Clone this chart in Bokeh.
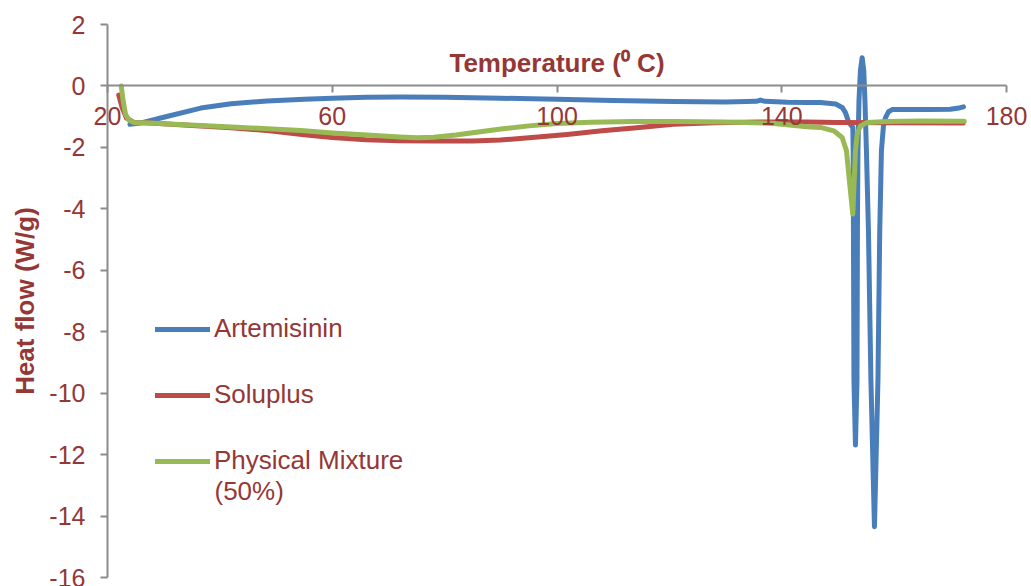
from bokeh.plotting import figure
from bokeh.models import (Range1d, FixedTicker, LinearAxis, Legend, LegendItem,
                          Label, ColumnDataSource, PrintfTickFormatter)
from bokeh.embed import file_html
from bokeh.resources import INLINE

# DSC thermograms: temperature (deg C) vs heat flow (W/g)
art_temp = [24.0, 26.0, 30.0, 36.6, 42.0, 48.4, 55.0, 60.0, 66.0, 72.1, 80.0, 90.0,
            100.0, 110.0, 120.7, 130.0, 135.5, 136.2, 137.0, 141.0, 144.5, 146.9,
            149.6, 150.75, 151.34, 151.93, 152.65, 152.71, 152.76, 152.85, 153.12,
            153.39, 153.47, 153.56, 153.74, 154.0, 154.31, 154.6, 154.81, 155.07,
            155.43, 155.87, 156.5, 157.12, 157.44, 157.74, 158.1, 158.45, 158.99,
            159.65, 161.66, 166.5, 170.0, 171.5, 172.34]
art_flow = [-1.25, -1.20, -1.02, -0.72, -0.58, -0.49, -0.43, -0.40, -0.37, -0.36, -0.37, -0.40,
            -0.43, -0.47, -0.51, -0.52, -0.50, -0.46, -0.50, -0.53, -0.54, -0.54,
            -0.59, -0.70, -0.87, -1.19, -1.35, -2.11, -4.71, -9.58, -11.69,
            -9.58, -4.71, -2.11, -0.49, 0.49, 0.92, 0.49, -0.49, -2.11,
            -4.71, -9.58, -14.35, -9.58, -4.71, -2.11, -1.30, -1.04, -0.84,
            -0.77, -0.77, -0.77, -0.76, -0.72, -0.68]

sol_temp = [22.0, 22.6, 23.4, 24.7, 27.6, 36.6, 42.0, 48.4, 55.0, 60.0, 66.0, 72.0, 78.0,
            85.0, 89.9, 95.0, 101.8, 108.0, 113.7, 120.7, 128.0, 136.0, 144.5,
            150.0, 160.0, 172.3]
sol_flow = [-0.30, -0.70, -1.05, -1.19, -1.21, -1.30, -1.36, -1.45, -1.59, -1.68, -1.75, -1.78, -1.79,
            -1.79, -1.76, -1.69, -1.58, -1.46, -1.37, -1.25, -1.20, -1.17, -1.17,
            -1.19, -1.20, -1.21]

mix_temp = [22.44, 22.79, 23.2, 23.79, 24.68, 27.65, 30.0, 36.6, 42.0, 48.4, 54.4, 60.0,
            66.2, 72.0, 75.1, 78.1, 82.0, 86.0, 90.0, 95.0, 100.0, 106.0, 113.7, 120.7, 130.0,
            138.7, 144.5, 146.9, 149.26, 150.75, 151.52, 152.1, 152.64, 153.12, 153.42,
            154.01, 155.2, 158.76, 164.69, 172.5]
mix_flow = [0.0, -0.49, -0.92, -1.11, -1.19, -1.21, -1.23, -1.29, -1.34, -1.39, -1.45, -1.53,
            -1.60, -1.66, -1.69, -1.67, -1.60, -1.50, -1.40, -1.30, -1.22, -1.18, -1.16, -1.16, -1.17,
            -1.22, -1.33, -1.35, -1.46, -1.68, -2.11, -3.19, -4.17, -2.11, -1.57,
            -1.30, -1.19, -1.16, -1.14, -1.15]

series_names = ["Artemisinin", "Soluplus", "Physical Mixture"]
mixture_note = "(50%)"
series_colors = ["#4A7EBB", "#BE4B48", "#98B954"]

x_ticks = [20, 60, 100, 140, 180]
y_ticks = [-16, -14, -12, -10, -8, -6, -4, -2, 0, 2]
x_lo, x_hi = 20, 180
y_lo, y_hi = -16, 2

TEXT = "#953735"
GRID = "#8C8C8C"
FONT = "Liberation Sans"

# Canvas layout: the axes area spans pixels 107..1006 across and 24..577 down;
# the frame fills the whole canvas so that edge labels are not clipped.
W, H = 1031, 586
AX_L, AX_R, AX_T, AX_B = 107, 1006, 24, 577
sx = (AX_R - AX_L) / (x_hi - x_lo)
sy = (AX_B - AX_T) / (y_hi - y_lo)
x_range = Range1d(x_lo - AX_L / sx, x_hi + (W - AX_R) / sx)
y_range = Range1d(y_lo - (H - AX_B) / sy, y_hi + AX_T / sy)

p = figure(width=W, height=H, output_backend="svg", toolbar_location=None,
           x_range=x_range, y_range=y_range, x_axis_type=None, y_axis_type=None,
           min_border=0)
p.outline_line_color = None
p.background_fill_color = "white"
p.border_fill_color = "white"

# y axis at the low end of the temperature scale
yaxis = LinearAxis(ticker=FixedTicker(ticks=y_ticks), formatter=PrintfTickFormatter(format="%d"),
                   fixed_location=x_lo, bounds=(y_lo, y_hi))
yaxis.axis_label = "Heat flow (W/g)"
yaxis.axis_label_text_font = FONT
yaxis.axis_label_text_font_style = "bold"
yaxis.axis_label_text_font_size = "26px"
yaxis.axis_label_text_color = TEXT
yaxis.axis_label_standoff = 6
yaxis.major_label_text_font = FONT
yaxis.major_label_text_font_size = "25px"
yaxis.major_label_text_color = TEXT
yaxis.major_label_standoff = 15
yaxis.major_tick_out = 7
yaxis.major_tick_in = 0
yaxis.minor_tick_line_color = None
yaxis.axis_line_color = GRID
yaxis.axis_line_width = 2
yaxis.major_tick_line_color = GRID
yaxis.major_tick_line_width = 2
p.add_layout(yaxis, "left")

# x axis crossing at zero heat flow
xaxis = LinearAxis(ticker=FixedTicker(ticks=x_ticks), fixed_location=0, bounds=(x_lo, x_hi))
xaxis.major_label_text_font = FONT
xaxis.major_label_text_font_size = "25px"
xaxis.major_label_text_color = TEXT
xaxis.major_label_standoff = 14
xaxis.major_tick_out = 7
xaxis.major_tick_in = 0
xaxis.minor_tick_line_color = None
xaxis.axis_line_color = GRID
xaxis.axis_line_width = 2
xaxis.major_tick_line_color = GRID
xaxis.major_tick_line_width = 2
p.add_layout(xaxis, "below")

p.ygrid.ticker = FixedTicker(ticks=y_ticks)
p.ygrid.bounds = (y_lo, y_hi)
p.ygrid.cross_bounds = (x_lo, x_hi)
p.ygrid.grid_line_color = GRID
p.ygrid.grid_line_width = 2
p.xgrid.grid_line_color = None

renderers = []
for t, f, c in zip([art_temp, sol_temp, mix_temp], [art_flow, sol_flow, mix_flow], series_colors):
    src = ColumnDataSource(dict(t=t, f=f))
    r = p.line("t", "f", source=src, line_color=c, line_width=5,
               line_cap="round", line_join="round")
    renderers.append(r)

legend = Legend(items=[LegendItem(label=n, renderers=[r]) for n, r in zip(series_names, renderers)],
                location=(155, 110), orientation="vertical",
                glyph_width=55, glyph_height=30, label_standoff=4, spacing=35,
                padding=0, margin=0,
                label_text_font=FONT, label_text_font_size="26px", label_text_color=TEXT,
                background_fill_alpha=0, border_line_alpha=0)
p.add_layout(legend, "center")

# second line of the mixture's legend entry
p.add_layout(Label(x=214, y=96, x_units="screen", y_units="screen", text=mixture_note,
                   text_align="left", text_baseline="middle", text_font=FONT,
                   text_font_size="26px", text_color=TEXT))

p.add_layout(Label(x=100, y=0.75, text="Temperature (\u2070 C)", text_align="center",
                   text_baseline="middle", text_font=FONT, text_font_size="26px",
                   text_font_style="bold", text_color=TEXT))

open("out.html", "w").write(file_html(p, INLINE))
